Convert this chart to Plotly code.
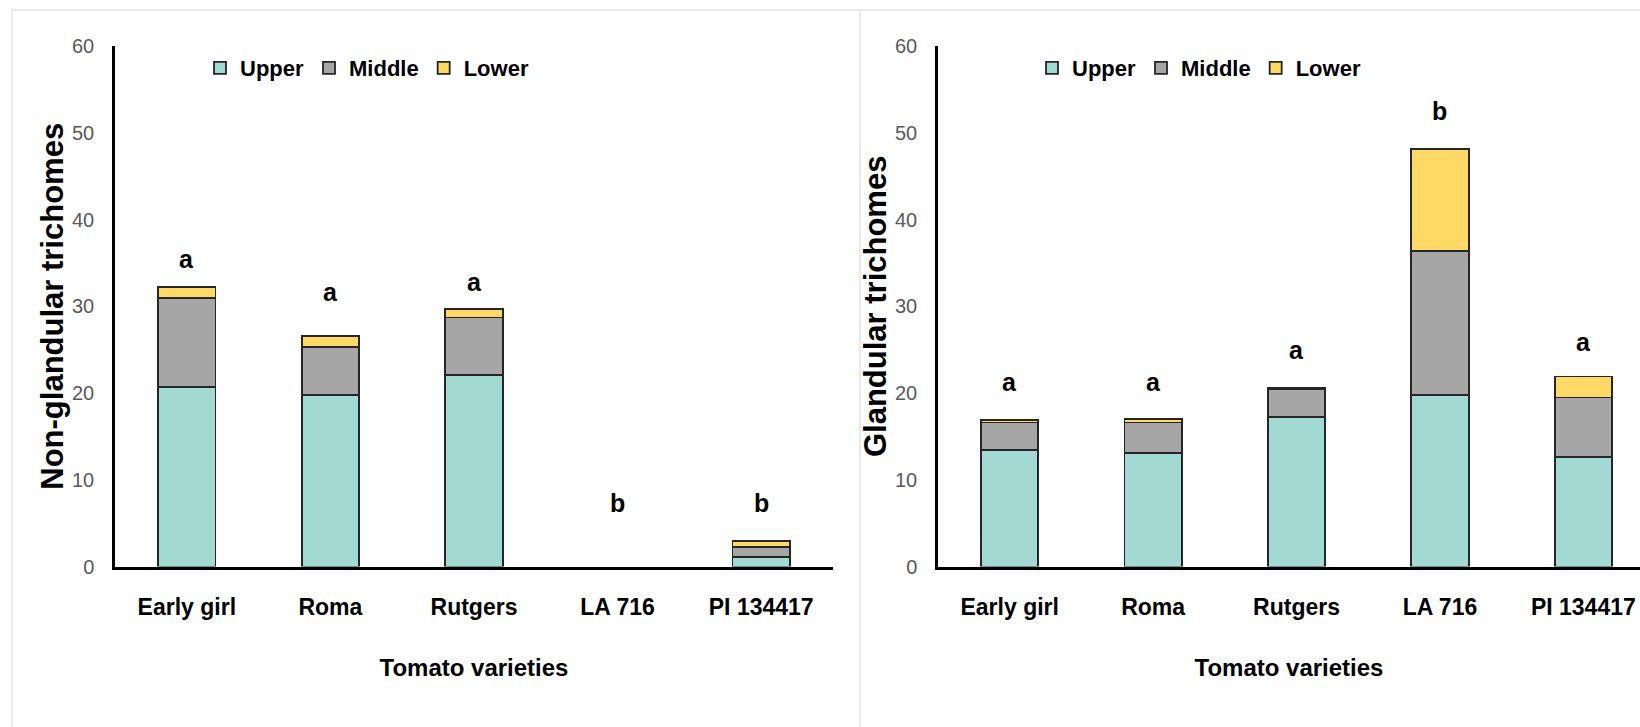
import plotly.graph_objects as go

varieties = ["Early girl", "Roma", "Rutgers", "LA 716", "PI 134417"]

# Non-glandular trichomes (left panel)
ng_upper = [20.7, 19.8, 22.1, 0.0, 1.15]
ng_middle = [10.3, 5.5, 6.6, 0.0, 1.15]
ng_lower = [1.25, 1.25, 1.0, 0.0, 0.65]
ng_letters = ["a", "a", "a", "b", "b"]
ng_letter_y = [35.4, 31.6, 32.8, 7.3, 7.3]

# Glandular trichomes (right panel)
g_upper = [13.4, 13.1, 17.2, 19.8, 12.6]
g_middle = [3.2, 3.5, 3.3, 16.6, 6.9]
g_lower = [0.3, 0.45, 0.1, 11.7, 2.4]
g_letters = ["a", "a", "a", "b", "a"]
g_letter_y = [21.3, 21.3, 25.0, 52.5, 25.9]

series_names = ["Upper", "Middle", "Lower"]
colors = ["#A2D9D3", "#A6A6A6", "#FFD966"]

FONT = "Liberation Sans, Arial, sans-serif"


def nz(vals):
    # zero-height segments are not drawn in the reference
    return [v if v > 0 else None for v in vals]


fig = go.Figure()

for name, vals, col in zip(series_names, [ng_upper, ng_middle, ng_lower], colors):
    fig.add_trace(go.Bar(x=varieties, y=nz(vals), name=name, width=0.4,
                         marker=dict(color=col, line=dict(color="#262626", width=1.8)),
                         xaxis="x", yaxis="y", legend="legend"))
for name, vals, col in zip(series_names, [g_upper, g_middle, g_lower], colors):
    fig.add_trace(go.Bar(x=varieties, y=nz(vals), name=name, width=0.4,
                         marker=dict(color=col, line=dict(color="#262626", width=1.8)),
                         xaxis="x2", yaxis="y2", legend="legend2"))

annotations = []
for v, t, yy in zip(varieties, ng_letters, ng_letter_y):
    annotations.append(dict(x=v, y=yy, xref="x", yref="y", text="<b>" + t + "</b>", showarrow=False,
                            font=dict(family=FONT, size=25, color="black")))
for v, t, yy in zip(varieties, g_letters, g_letter_y):
    annotations.append(dict(x=v, y=yy, xref="x2", yref="y2", text="<b>" + t + "</b>", showarrow=False,
                            font=dict(family=FONT, size=25, color="black")))

W, H = 1640, 727
ydom = [(H - 566.6) / H, (H - 46) / H]

common_x = dict(type="category", showline=True, linecolor="black", linewidth=3,
                showgrid=False, zeroline=False, ticks="outside", ticklen=18,
                tickcolor="rgba(0,0,0,0)", automargin=False,
                tickfont=dict(family=FONT, size=23, color="black", weight="bold"),
                title=dict(text="<b>Tomato varieties</b>", standoff=40,
                           font=dict(family=FONT, size=24, color="black")))
common_y = dict(range=[0, 60], dtick=10, showline=True, linecolor="black", linewidth=2.5,
                showgrid=False, zeroline=False, ticks="outside", ticklen=14,
                tickcolor="rgba(0,0,0,0)", automargin=False,
                tickfont=dict(family=FONT, size=20, color="#595959"))

legend_common = dict(orientation="h", xanchor="left", yanchor="middle",
                     font=dict(family=FONT, size=22, color="black", weight="bold"),
                     itemwidth=30, tracegroupgap=0, traceorder="normal",
                     bgcolor="rgba(0,0,0,0)")

fig.update_layout(
    width=W, height=H,
    margin=dict(l=0, r=0, t=0, b=0),
    paper_bgcolor="white", plot_bgcolor="white",
    barmode="stack",
    xaxis=dict(domain=[115 / W, 833 / W], range=[-0.5, 4.5], anchor="y", **common_x),
    yaxis=dict(domain=ydom, anchor="x",
               title=dict(text="<b>Non-glandular trichomes</b>", standoff=0,
                          font=dict(family=FONT, size=31, color="black")),
               **common_y),
    xaxis2=dict(domain=[938 / W, 1.0], range=[-0.5, 4.395], anchor="y2", **common_x),
    yaxis2=dict(domain=ydom, anchor="x2",
                title=dict(text="<b>Glandular trichomes</b>", standoff=0,
                           font=dict(family=FONT, size=31, color="black")),
                **common_y),
    legend=dict(x=200 / W, y=1 - 68 / H, **legend_common),
    legend2=dict(x=1032 / W, y=1 - 68 / H, **legend_common),
    annotations=annotations,
    shapes=[
        dict(type="rect", xref="paper", yref="paper", x0=12 / W, x1=860 / W, y0=-0.05, y1=1 - 10 / H,
             line=dict(color="#E3E3E3", width=1.5), layer="below"),
        dict(type="line", xref="paper", yref="paper", x0=860 / W, x1=1.0, y0=1 - 10 / H, y1=1 - 10 / H,
             line=dict(color="#E3E3E3", width=1.5), layer="below"),
    ],
    showlegend=True,
)

fig.write_html("out.html")
